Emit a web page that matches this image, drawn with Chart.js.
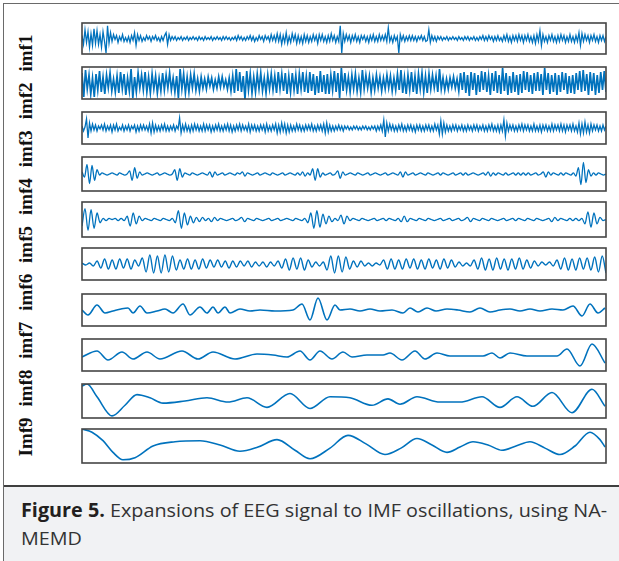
<!DOCTYPE html>
<html>
<head>
<meta charset="utf-8">
<script src="https://cdn.jsdelivr.net/npm/chart.js"></script>
<style>
  html, body { margin: 0; padding: 0; background: #fff; }
  #page { position: relative; width: 619px; height: 561px; overflow: hidden; background: #fff; }
  #frame { position: absolute; left: 3px; top: 3px; width: 640px; height: 600px;
           border-top: 1.5px solid #6a6a6a; border-left: 1.5px solid #6a6a6a; }
  #labels { position: absolute; left: -186px; top: 234.5px; width: 422px; height: 21px; line-height: 21px;
            display: flex; justify-content: space-between; transform: rotate(-90deg);
            font-family: "Liberation Serif", "Times New Roman", serif; font-weight: bold; font-size: 19px; color: #111; }
  #caption { position: absolute; left: 4px; top: 485px; width: 640px; height: 90px;
             background: #f1f2f4; border-top: 2px solid #3f3f3f; }
  #captionText { position: absolute; left: 17px; top: 10px; white-space: nowrap; transform-origin: 0 0;
                 font-family: "Open Sans", sans-serif; font-size: 19px; line-height: 27.5px; color: #333; }
  #captionText b { color: #231f20; }
  canvas { position: absolute; }
</style>
</head>
<body>
<div id="page">
  <div id="frame"></div>
  <div id="labels"></div>
  <div id="caption">
    <div id="captionText"><span id="captionLine1"><b>Figure 5.</b> Expansions of EEG signal to IMF oscillations, using NA-</span><br>MEMD</div>
  </div>
</div>
<script>
// samples across each panel
var nSamples = 524;

// axis labels, bottom to top as printed
var panelLabels = ['Imf9', 'imf8', 'imf7', 'imf6', 'imf5', 'imf4', 'imf3', 'imf2', 'imf1'];

// fast components, evenly sampled
var imf1Values = [
  3,-6,9,-4,7,-9,5,-7,10,-5, 8,-6,4,-9,7,-3,-15,13,-5,6, -3,4,-1,3,-4,2,-2,4,-3,1,
  -3,2,-4,3,-2,6,-7,4,-2,3, -3,1,-2,3,-1,2,-3,2,-1,3, -2,1,-3,2,-2,3,6,-6,4,-2,
  2,-1,2,-2,1,-1,2,-2,1,-1, 2,-2,1,-1,2,-1,1,-2,2,-1, 1,-2,2,-1,1,-1,2,-2,1,-1,
  2,-1,1,-2,2,-1,2,-1,1,-2, 1,-1,2,-2,3,-1,2,-2,1,-2, 2,-1,3,-2,2,-3,1,-2,3,-1,
  2,-3,3,-1,2,-3,4,-2,3,-3, 5,-3,4,-6,3,-4,6,-5,2,-4, 5,-2,4,-5,3,-4,2,-5,4,-3,
  3,-4,2,-3,4,-2,3,-5,4,-2, 4,-3,2,-4,3,-3,5,-2,3,-4, 2,-3,13,-15,5,-3,4,-2,3,-4,
  3,-2,4,-3,2,-4,3,-1,3,-3, 2,-4,3,-2,4,-3,2,-3,4,-2, 3,-2,4,-3,11,-3,2,-4,3,-2,
  2,-15,4,-2,3,-3,2,-2,3,-2, 3,-2,2,-3,2,-1,3,-2,2,-3, -2,9,-4,3,-2,2,-3,2,-1,2,
  -2,1,-1,2,-2,1,-1,2,-1,1, -2,2,-1,1,-2,2,-1,2,-2,1, -1,2,-2,1,-2,2,-1,3,-2,2,
  -2,3,-1,2,-3,2,-2,3,-2,1, -3,3,-2,4,-3,2,-4,3,-2,3, -3,4,-2,3,-4,3,-2,4,-3,2,
  -4,3,-5,4,-3,8,-7,4,-3,2, -4,3,-2,4,-3,2,-4,3,-3,4, -2,3,-4,2,-3,4,-3,2,-4,3,
  -3,6,-7,5,-3,4,-2,3,-4,3, -2,4,-3,2,-4,3,-2,3,-3,2
];
var imf2Values = [
  10,-14,13,-6,8,-11,5,-14,9,-7, 12,-9,6,-11,8,-5,10,-8,4,-9, 7,-10,11,-6,9,-12,5,-8,14,-15,
  6,-9,10,-5,8,-7,11,-9,6,-10, 9,-6,7,-10,5,-8,10,-7,8,-5, 10,-7,5,-9,7,-15,14,-6,9,-10,
  6,-9,8,-5,9,-7,4,-8,6,-5, 4,-6,6,-3,5,-6,3,-5,6,-4, 6,-4,3,-6,5,-8,7,-10,14,-8,
  11,-9,7,-16,12,-7,9,-10,6,-9, 9,-6,10,-8,5,-10,8,-6,9,-7, 7,-10,11,-6,9,-8,10,-11,7,-9,
  10,-7,8,-11,9,-6,11,-9,7,-10, 11,-8,9,-12,7,-10,12,-9,8,-11, 9,-11,8,-7,12,-9,10,-15,15,-8,
  10,-7,6,-9,8,-6,9,-8,5,-9, 13,-6,8,-5,7,-9,5,-7,8,-5, 6,-8,5,-6,8,-5,7,-8,5,-7,
  9,-7,13,-10,6,-11,8,-7,11,-9, 7,-11,9,-6,10,-9,7,-10,9,-6, 8,-5,7,-9,14,-6,5,-7,4,-6,
  5,-4,6,-5,4,-8,10,-7,11,-10, 8,-13,11,-7,10,-12,8,-9,12,-7, 11,-9,7,-12,10,-8,12,-10,8,-11,
  15,-8,10,-12,7,-10,11,-9,8,-12, 9,-10,12,-7,11,-9,8,-11,10,-8, 11,-8,9,-12,15,-7,10,-11,8,-9,
  10,-12,8,-9,11,-7,10,-11,7,-10, 8,-11,10,-7,12,-9,13,-8,9,-12, 11,-8,10,-12,8,-10,11,-7,12,-9
];
var imf3Values = [
  2,-3,1,9,-10,5,-3,4,-2,3, -3,2,-1,3,-2,4,-3,2,-2,3, -4,3,-2,4,-3,1,-2,3,-3,2,
  -2,3,-3,2,-1,3,-4,2,-3,3, -2,3,-2,2,-3,4,-5,5,-4,3, -3,2,-3,3,-2,4,-3,2,-3,2,
  -2,3,-3,2,-1,10,-5,3,-3,4, -3,2,-4,3,-3,4,-2,3,-3,2, -3,4,-3,3,-2,3,-4,2,-3,3,
  -2,4,-3,2,-3,3,-2,4,-3,3, -4,2,-3,3,-2,4,-3,3,-2,2, -3,4,-4,3,-2,3,-3,2,-3,3,
  -2,3,-4,4,-3,2,-3,3,-2,4, -5,3,-4,5,-3,4,-5,3,-4,3, -3,2,-3,4,-2,3,-3,2,-3,3,
  -2,3,-2,4,-3,2,-3,3,-2,3, -3,4,-5,5,-4,3,-3,2,-3,2, -2,3,-2,2,-3,2,-1,2,-2,1,
  -2,2,-1,2,-2,1,-2,2,-1,2, -2,1,-2,2,-1,2,-3,2,-2,3, -3,8,-9,5,-3,4,-2,3,-3,2,
  -3,3,-2,4,-3,2,-3,3,-2,3, -3,2,-4,3,-2,3,-3,2,-3,3, -2,3,-3,2,-3,4,-2,3,-6,7,
  -6,5,-4,3,-3,2,-3,3,-2,3, -3,2,-2,3,-3,2,-3,3,-2,2, -3,3,-2,3,-3,2,-2,3,-3,2,
  -3,3,-2,4,-3,2,-3,3,-4,3, -3,8,-8,5,-3,3,-2,3,-3,2, -3,3,-2,4,-3,3,-2,3,-3,2,
  -3,4,-3,2,-3,3,-4,3,-2,3, -3,2,-3,4,-3,3,-2,3,-3,4, -3,3,-4,3,-2,3,-3,4,-3,2,
  -4,5,-6,4,-5,6,-4,3,-5,4, -3,3,-2,3,-3,2,-3,3,-2,2
];

// bursty components, evenly sampled
var imf4Values = [
  2,-3,9,-9,8,-6,4, -1,1,0,-1,0,1,0,-1,1,0,-1,0, 3,-6,6,-4,2,
  -1,0,1,0,-1,0,1,-1,0,1,0,-1,0, 4,-6,5,-3, 1,0,-1,1,0,-1,0,1,0,-1, 2,-3,2,
  -1,0,1,-1,0,1,0,-1,1,0, 2,-2,
  1,0,-1,0,1,-1,0,1,0,-1,1,0,-1,0,1,-1,0,1,0,-1,1,-1, 2,-2, 1,-1, 5,-6,5,-3,
  1,-1,0,1,-1,0, 3,-4,2,
  -1,0,1,0,-1,1,0,-1,0,1,-1,0,1,0,-1,0,1,-1,0,1,0,-1, 2,-3,2,
  -1,0,1,-1,0,1,0,-1,1,0,-1,0,1,-1,1,0,-1,0,1,-1,0,1, -1,1,-1,
  0,1,0,-1,0,1,-1, 2,-2, 1,-1,1,0,-1,1,-1,0,1,-1,1,-1, 1,-1,1,-1, 0,1,-1,0, 2,-3,
  2,-1,1,0,-1,1,-1,1,0,-1,1,-2, 6,-10,11,-8,4, -2,1,-1,1,0,-1,0
];
var imf5Values = [
  -6,10,-10,9,-8,6,-3, 1,-1,1,0,1,-1,1,-1, 3,-6,6,-4,3,
  -1,1,0,-1,1,0,-1,1,0,-1,1, -3,8,-8,6,-5,3,-3,2, -2,2,-1,1, -2,2,
  -1,1,0,-1,0,1,-1,0, 2,-2,
  1,0,-1,1,0,-1,0,1,-1,0,1,-1,0,1,0,-1,1,0,-1,1,
  -3,6,-8,8,-7,5,-4,3, -2,1,-1, 4,-4,3,
  -1,1,0,-1,1,0,-1,0,1,-1,0,1,-1,1,0,-1,1, -2,3,-2,
  1,0,-1,1,0,-1,1,0,-1,0,1,-1,0,1,-1,0,1,-1,0, 2,-2,1,
  0,-1,1,0,-1,1,0,-1,0,1,-1,0,1,-1,1,0,-1,1,0,-1,1,0,-1,0,1, -2,2,
  -1,1,0,-1,1,-1,1,-1,1, -4,7,-7,6,-4,2, -1,0
];
var imf6Values = [
  1,-1,1, -2,3, -4,5,-5,4,-5,5,-4,5,-5,4, -2, 6,-8,9,-9,8,-9,9,-8,8,-6, 4,
  -5,5,-5,4,-5,5,-4, 4,-3,4,-3,3,-4, 3,-3,3,-2,3,-3,2, -2,2,-3,2,-2,3,
  -4,5,-6,6,-5,6,-6,4, -3,2, -2,2, -6,8,-9,8,-8,7,-5, 3,-3,3,-2, 1,-2,1,-1,
  4,-5,5,-5,4,-5,5,-4,5,-5,4,-5,5,-4,4,-5,5,-4,4,-3, 2,-2,1,-2,
  4,-5,6,-6,5,-6,6,-5,5,-6,5,-5,6,-5,4,-4,3, -2,2,-1,2,-2,
  4,-5,6,-6,5,-6,6,-5,6,-6,7,-8,8,-9
];

// slow components: sample position and value at each turning point
var imf7Time = [0,6,15,23,31,39,46,51,58,65,75,83,91,101,108,118,125,131,136,143,148,158,168,178,193,211,220,228,236,245,
  253,258,268,278,288,298,310,321,328,336,345,354,365,376,388,398,408,418,428,438,448,458,470,481,491,500,508,516,523];
var imf7Values = [0,-5,5,-3,-1,1,2,-3,4,-3,-1,1,-3,6,-5,3,-3,3,-3,3,-3,1,-1,0,-1,0,6,-10,12,-10,
  5,0,1,-1,1,-1,0,-3,2,-2,2,-1,1,0,-2,2,-2,0,1,-1,1,-1,1,0,4,-6,6,-3,2];
var imf8Time = [0,15,26,40,51,65,78,100,116,131,153,175,191,205,218,228,238,250,261,270,
  285,301,308,320,333,343,355,368,401,410,418,428,445,475,485,498,510,523];
var imf8Values = [-2,4,-5,3,-4,3,-4,4,-4,3,-4,1,0,-2,4,-5,4,-4,3,-2,
  0,0,2,-5,4,-4,2,-1,-1,2,-3,2,-1,-1,6,-11,11,-8];
var imf9Time = [0,5,15,30,43,55,68,81,103,125,146,165,185,208,228,248,268,290,306,318,
  335,358,378,400,418,435,451,470,490,510,523];
var imf9Values = [14,16,4,-14,-4,6,3,-2,0,3,-1,3,-6,7,-7,4,3,-4,2,-3,
  4,-1,-1,4,-6,4,-5,8,-11,11,-5];
var imf10Time = [0,10,21,31,41,53,71,93,118,138,158,176,195,213,228,248,266,284,303,319,
  335,350,365,378,391,406,420,434,448,463,478,493,508,518,523];
var imf10Values = [16,13,5,-6,-13,-11,0,4,5,1,-5,-1,6,-4,-12,-2,10,2,-8,-2,
  7,1,-6,-1,4,1,-4,0,4,-2,-8,0,13,6,-1];

// page layout of the ten boxes (top, bottom in px)
var boxTop = [23, 67, 112, 157, 202, 248, 294, 339, 384, 429];
var boxBottom = [54, 99, 144, 191, 237, 280, 326, 371, 418, 463];
var boxLeft = 82, boxRight = 606;

function uniform(values) {
  return values.map(function (v, i) {
    return { x: i * nSamples / (values.length - 1), y: v };
  });
}
function paired(times, values) {
  return times.map(function (t, i) { return { x: t, y: values[i] }; });
}

var panels = [
  { data: uniform(imf1Values), smooth: false, width: 1.3 },
  { data: uniform(imf2Values), smooth: false, width: 1.7 },
  { data: uniform(imf3Values), smooth: false, width: 1.3 },
  { data: uniform(imf4Values), smooth: true, width: 1.3 },
  { data: uniform(imf5Values), smooth: true, width: 1.3 },
  { data: uniform(imf6Values), smooth: true, width: 1.4 },
  { data: paired(imf7Time, imf7Values), smooth: true, width: 1.6 },
  { data: paired(imf8Time, imf8Values), smooth: true, width: 1.6 },
  { data: paired(imf9Time, imf9Values), smooth: true, width: 1.6 },
  { data: paired(imf10Time, imf10Values), smooth: true, width: 1.6 }
];

var boxFrame = {
  id: 'boxFrame',
  afterDraw: function (chart) {
    var a = chart.chartArea, ctx = chart.ctx;
    ctx.save();
    ctx.strokeStyle = '#454545';
    ctx.lineWidth = 1.6;
    ctx.strokeRect(a.left, a.top, a.right - a.left, a.bottom - a.top);
    ctx.restore();
  }
};

var page = document.getElementById('page');
var pad = 2;
panels.forEach(function (p, k) {
  var cv = document.createElement('canvas');
  var h = boxBottom[k] - boxTop[k];
  cv.width = boxRight - boxLeft + 2 * pad;
  cv.height = h + 2 * pad;
  cv.style.left = (boxLeft - pad) + 'px';
  cv.style.top = (boxTop[k] - pad) + 'px';
  page.appendChild(cv);

  new Chart(cv, {
    type: 'line',
    data: {
      datasets: [{
        data: p.data,
        borderColor: '#0072BD',
        borderWidth: p.width,
        pointRadius: 0,
        fill: false,
        tension: 0,
        cubicInterpolationMode: p.smooth ? 'monotone' : 'default'
      }]
    },
    options: {
      responsive: false,
      animation: false,
      devicePixelRatio: 1,
      layout: { padding: pad },
      plugins: { legend: { display: false }, tooltip: { enabled: false } },
      scales: {
        x: { type: 'linear', display: false, min: 0, max: nSamples },
        y: { display: false, min: -16, max: 16 }
      }
    },
    plugins: [boxFrame]
  });
});

// rotated row of labels
var lab = document.getElementById('labels');
panelLabels.forEach(function (t) {
  var s = document.createElement('span');
  s.textContent = t;
  lab.appendChild(s);
});

// fit the caption's first line to the printed width
var line1 = document.getElementById('captionLine1');
var w = line1.getBoundingClientRect().width;
document.getElementById('captionText').style.transform = 'scaleX(' + (586 / w).toFixed(4) + ')';
</script>
</body>
</html>
